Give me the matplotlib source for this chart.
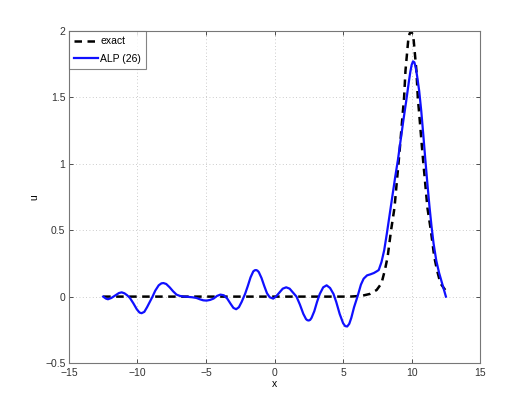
import matplotlib
matplotlib.use("Agg")
import matplotlib.pyplot as plt

# exact solution
exact_x = [-12.5, 5.5, 5.95, 6.45, 6.95, 7.45, 7.8, 8.05, 8.25, 8.5, 8.75, 8.95,
           9.04, 9.15, 9.35, 9.45, 9.55, 9.75, 9.85, 9.95, 10.05, 10.15, 10.35,
           10.45, 10.55, 10.75, 10.86, 10.95, 11.15, 11.4, 11.65, 11.85, 12.1, 12.45]
exact_u = [0.0, 0.0, 0.003, 0.008, 0.02, 0.05, 0.1, 0.2, 0.3, 0.5, 0.67, 0.9,
           1.0, 1.13, 1.38, 1.5, 1.7, 1.93, 1.98, 2.0, 1.98, 1.93, 1.7,
           1.5, 1.38, 1.13, 1.0, 0.9, 0.67, 0.5, 0.3, 0.2, 0.1, 0.05]

# ALP (26) approximation
alp_x = [-12.5, -12.3, -12.15, -11.9, -11.6, -11.35, -11.15, -10.95, -10.75, -10.55,
         -10.3, -10.05, -9.85, -9.7, -9.5, -9.3, -9.1, -8.9, -8.7, -8.45,
         -8.25, -8.1, -7.9, -7.65, -7.4, -7.15, -6.9, -6.6, -6.3, -6.0,
         -5.7, -5.45, -5.2, -4.95, -4.7, -4.45, -4.2, -3.95, -3.7, -3.45,
         -3.2, -3.0, -2.8, -2.6, -2.4, -2.15, -1.95, -1.75, -1.55, -1.45,
         -1.35, -1.25, -1.15, -0.95, -0.75, -0.55, -0.35, -0.1, 0.1, 0.35,
         0.6, 0.85, 1.1, 1.35, 1.6, 1.85, 2.1, 2.3, 2.4, 2.5,
         2.6, 2.7, 2.9, 3.1, 3.3, 3.55, 3.8, 4.05, 4.3, 4.5,
         4.75, 5.0, 5.15, 5.3, 5.45, 5.6, 5.8, 6.05, 6.3, 6.5,
         6.75, 7.0, 7.25, 7.45, 7.6, 7.8, 8.0, 8.2, 8.4, 8.6,
         8.8, 9.0, 9.2, 9.4, 9.6, 9.8, 9.9, 10.0, 10.1, 10.2,
         10.3, 10.4, 10.55, 10.7, 10.85, 11.0, 11.15, 11.3, 11.45, 11.6,
         11.8, 12.0, 12.25, 12.5]
alp_u = [0.0, -0.015, -0.02, -0.01, 0.01, 0.027, 0.032, 0.025, 0.01, -0.01,
         -0.05, -0.095, -0.12, -0.125, -0.115, -0.08, -0.04, 0.0, 0.045, 0.085,
         0.1, 0.102, 0.095, 0.07, 0.04, 0.015, 0.005, 0.0, -0.002, -0.005,
         -0.01, -0.02, -0.028, -0.03, -0.025, -0.015, 0.005, 0.015, 0.01, -0.015,
         -0.055, -0.085, -0.095, -0.08, -0.04, 0.02, 0.08, 0.145, 0.19, 0.198,
         0.2, 0.196, 0.185, 0.14, 0.08, 0.025, -0.005, -0.015, 0.0, 0.03,
         0.06, 0.07, 0.06, 0.03, 0.0, -0.06, -0.13, -0.17, -0.178, -0.18,
         -0.175, -0.16, -0.11, -0.04, 0.02, 0.07, 0.085, 0.065, 0.02, -0.04,
         -0.13, -0.2, -0.222, -0.225, -0.205, -0.16, -0.08, 0.0, 0.09, 0.135,
         0.16, 0.168, 0.178, 0.19, 0.2, 0.26, 0.35, 0.48, 0.62, 0.76,
         0.9, 1.03, 1.18, 1.33, 1.47, 1.62, 1.69, 1.745, 1.772, 1.765,
         1.725, 1.66, 1.55, 1.4, 1.22, 1.03, 0.85, 0.68, 0.53, 0.4,
         0.27, 0.18, 0.09, 0.0]

xticks = [-15, -10, -5, 0, 5, 10, 15]
yticks = [-0.5, 0, 0.5, 1, 1.5, 2]

plt.rcParams['font.family'] = ['Liberation Sans', 'DejaVu Sans']
plt.rcParams['font.size'] = 7.5

fig = plt.figure(figsize=(5.3, 4.09), dpi=100)
ax = fig.add_axes([0.13, 0.1125, 0.776, 0.8115])

ax.plot(exact_x, exact_u, 'k--', lw=1.8, dashes=(3, 2.2), label='exact')
ax.plot(alp_x, alp_u, color='#1010ff', lw=1.6, label='ALP (26)')

ax.set_xlim(-15, 15)
ax.set_ylim(-0.5, 2)
ax.set_xticks(xticks)
ax.set_yticks(yticks)
ax.set_xticklabels([str(t).replace('-', '\u2212') for t in xticks])
ax.set_yticklabels(['\u22120.5', '0', '0.5', '1', '1.5', '2'])
ax.tick_params(direction='in', length=3, width=0.6, top=True, right=True,
               colors='#333333')
ax.tick_params(axis='x', pad=3.5)
ax.tick_params(axis='y', pad=2.5)
ax.grid(True, linestyle=(0, (1, 3)), color='#bbbbbb', lw=0.6)
for s in ax.spines.values():
    s.set_color('#777777')
    s.set_linewidth(0.8)

ax.set_xlabel('x', labelpad=1)
ax.set_ylabel('u', labelpad=4)

leg = ax.legend(loc='upper left', borderaxespad=0, fancybox=False,
                edgecolor='#666666', handlelength=2.3, handletextpad=0.2,
                borderpad=0.5, labelspacing=0.7, fontsize=7.5)
leg.get_frame().set_linewidth(0.8)

fig.savefig('out.png', dpi=100)
